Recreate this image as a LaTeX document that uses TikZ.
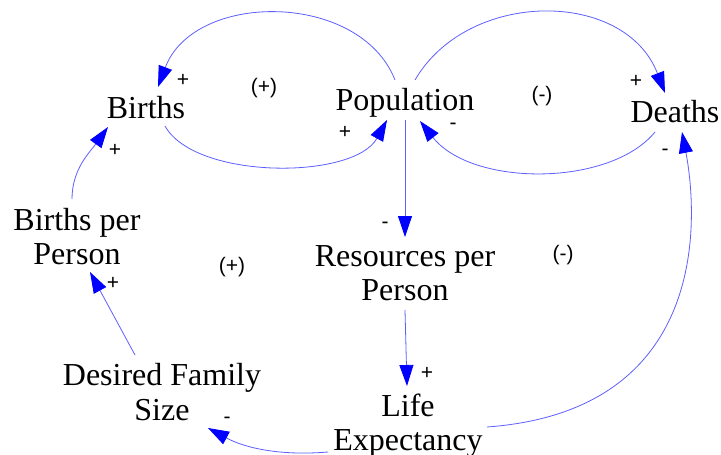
\documentclass[tikz,border=0pt]{standalone}
\usepackage{fontspec}
\setmainfont{Liberation Serif}
\newfontfamily\labfont{Liberation Sans}
\usetikzlibrary{arrows.meta,calc}
\definecolor{linkblue}{RGB}{95,95,255}
\definecolor{tipblue}{RGB}{0,0,255}
\tikzset{
  var/.style={anchor=base,align=center,inner sep=0pt,font=\fontsize{32}{34}\selectfont},
  pol/.style={inner sep=0pt,font=\labfont\fontsize{21}{24}\selectfont},
  link/.style={draw=linkblue,line width=0.8pt,-{Triangle[length=21pt,width=14pt,color=tipblue,fill=tipblue]}},
}
\begin{document}
\begin{tikzpicture}[x=1pt,y=-1pt]
\fill[white] (0,0) rectangle (721,455);
\useasboundingbox (0,0) rectangle (721,455);

\node[var] (births) at (146,118) {Births};
\node[var] (pop) at (405,110) {Population};
\node[var] (deaths) at (675,122) {Deaths};
\node[var] (bpp) at (77,264) {Births per\\Person};
\node[var] (rpp) at (405,300) {Resources per\\Person};
\node[var] (life) at (408,450) {Life\\Expectancy};
\node[var] (dfs) at (162,420) {Desired Family\\[1pt]Size};

% polarity and loop labels
\node[pol] (p1) at (183,80) {+};
\node[pol] (p2) at (345,132) {+};
\node[pol] (p3) at (453,126) {-};
\node[pol] (p4) at (636,81) {+};
\node[pol] (p5) at (665,152) {-};
\node[pol] (p6) at (115,150) {+};
\node[pol] (p7) at (113,283) {+};
\node[pol] (p8) at (227,420) {-};
\node[pol] (p9) at (385,225) {-};
\node[pol] (p10) at (427,373) {+};
\node[pol] (l1) at (264,88) {(+)};
\node[pol] (l2) at (542,96) {(-)};
\node[pol] (l3) at (232,267) {(+)};
\node[pol] (l4) at (563,255) {(-)};

% connectors
\draw[link] ($(pop.base)+(-10,-30)$) .. controls +(-35,-89) and +(36,-96) .. ($(births.base)+(12,-31)$);
\draw[link] ($(births.base)+(19,8)$) .. controls +(30,54) and +(-33,60) .. ($(pop.base)+(-18,10)$);
\draw[link] ($(pop.base)+(10,-30)$) .. controls +(53,-91) and +(-40,-104) .. ($(deaths.base)+(-10,-29)$);
\draw[link] ($(deaths.base)+(-20,10)$) .. controls +(-45,55) and +(52,66) .. ($(pop.base)+(15,11)$);
\draw[link] ($(pop.base)+(0,10)$) -- ($(rpp.base)+(0,-63)$);
\draw[link] ($(rpp.base)+(0,10)$) -- ($(life.base)+(-1,-64)$);
\draw[link] ($(life.base)+(79,-23)$) .. controls +(233,-17) and +(13,68) .. ($(deaths.base)+(7,10)$);
\draw[link] ($(life.base)+(-80,2)$) .. controls +(-48,4) and +(37,20) .. ($(dfs.base)+(46,8)$);
\draw[link] ($(dfs.base)+(-27,-65)$) -- ($(bpp.base)+(13,8)$);
\draw[link] ($(bpp.base)+(-5,-65)$) .. controls +(0,-30) and +(-18,25) .. ($(births.base)+(-38,9)$);
\end{tikzpicture}
\end{document}
